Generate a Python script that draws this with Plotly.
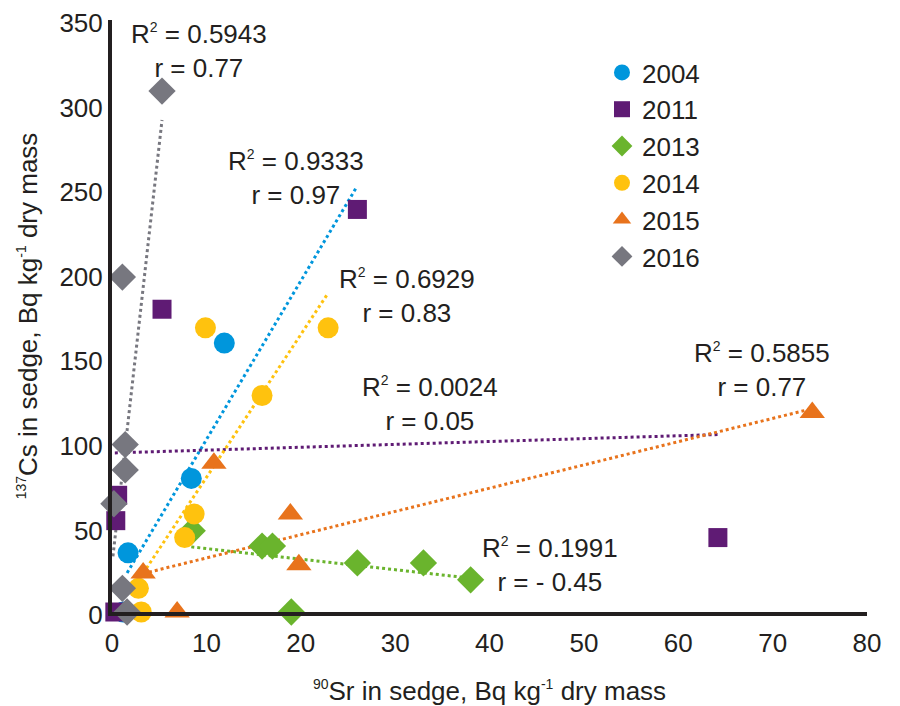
import plotly.graph_objects as go

# ---------------- data ----------------
years = ["2004", "2011", "2013", "2014", "2015", "2016"]
colors = ["#0096dc", "#5f1b74", "#6ab42d", "#ffc20e", "#e8731c", "#77777f"]
symbols = ["circle", "square", "diamond", "circle", "triangle-up", "diamond"]

sr_2004 = [1.7, 1.2, 8.4, 11.9]
cs_2004 = [35, 0, 79, 159]

sr_2011 = [0.3, 0.6, 0.4, 5.3, 26.0, 64.2]
cs_2011 = [0, 69, 54, 179, 238, 44]

sr_2013 = [8.5, 15.9, 17.0, 19.0, 26.0, 33.0, 38.0]
cs_2013 = [48, 39, 39, 0, 29, 29, 19]

sr_2014 = [3.1, 2.8, 7.7, 8.7, 9.9, 15.9, 22.9]
cs_2014 = [0, 14, 44, 58, 168, 128, 168]

sr_2015 = [6.9, 3.3, 10.8, 18.9, 19.8, 74.2]
cs_2015 = [0, 23, 88, 58, 28, 118]

sr_2016 = [5.3, 1.1, 1.4, 1.4, 0.2, 1.1, 1.6]
cs_2016 = [308, 198, 99, 84, 64, 14, 0]

sr_all = [sr_2004, sr_2011, sr_2013, sr_2014, sr_2015, sr_2016]
cs_all = [cs_2004, cs_2011, cs_2013, cs_2014, cs_2015, cs_2016]

# linear trend lines (slope, intercept, x-range)
trend_slope = [9.38, 0.17, -0.625, 8.45, 1.375, 49.6]
trend_intercept = [8.1, 94.0, 43.75, -5.0, 18.2, 28.0]
trend_xmin = [1.6, 0.3, 8.4, 2.6, 3.3, 0.1]
trend_xmax = [25.9, 64.2, 38.0, 22.8, 74.0, 5.3]

# regression statistics labels
stat_r2 = ["0.9333", "0.0024", "0.1991", "0.6929", "0.5855", "0.5943"]
stat_r = ["0.97", "0.05", "- 0.45", "0.83", "0.77", "0.77"]
stat_x = [19.5, 33.7, 46.4, 31.3, 68.9, 9.2]
stat_y = [256.3, 122.7, 27.8, 187.1, 143.1, 331.7]

x_ticks = [0, 10, 20, 30, 40, 50, 60, 70, 80]
y_ticks = [0, 50, 100, 150, 200, 250, 300, 350]

FONT = "Liberation Sans, Arial, sans-serif"
INK = "#231f20"


def sup(t):
    return '<sup><span style="font-size:14px">' + t + '</span></sup>'


fig = go.Figure()

# trend lines
for i in range(len(years)):
    xs = [trend_xmin[i], trend_xmax[i]]
    ys = [trend_slope[i] * v + trend_intercept[i] for v in xs]
    fig.add_trace(go.Scatter(
        x=xs, y=ys, mode="lines",
        line=dict(color=colors[i], width=3, dash="dot"),
        showlegend=False, hoverinfo="skip", cliponaxis=False,
    ))

# markers
for i in range(len(years)):
    size = 21
    if symbols[i] == "triangle-up":
        size = 22
    if symbols[i] == "square":
        size = 19
    fig.add_trace(go.Scatter(
        x=sr_all[i], y=cs_all[i], mode="markers", name=years[i],
        marker=dict(color=colors[i], symbol=symbols[i], size=size, line=dict(width=0)),
        cliponaxis=False,
    ))

for i in range(len(years)):
    fig.add_annotation(
        x=stat_x[i], y=stat_y[i], xref="x", yref="y",
        text="R" + sup("2") + " = " + stat_r2[i] + "<br>r = " + stat_r[i],
        showarrow=False, align="center",
        font=dict(family=FONT, size=26, color=INK),
    )

# page body adds an 8px offset: figure sized so the plot area sits at 112..867 x 20..612
fig.update_layout(
    width=884, height=698,
    margin=dict(l=104, r=25, t=12, b=94),
    paper_bgcolor="white", plot_bgcolor="white",
    font=dict(family=FONT, size=26, color=INK),
    showlegend=True,
    legend=dict(
        x=0.649, y=0.951, xanchor="left", yanchor="top",
        bgcolor="rgba(0,0,0,0)", font=dict(size=26, family=FONT),
        itemsizing="trace", tracegroupgap=0,
    ),
    xaxis=dict(
        range=[0, 80], tickvals=x_ticks, ticktext=[str(v) for v in x_ticks],
        showgrid=False, zeroline=False, showline=True, linewidth=4,
        linecolor=INK, ticks="", automargin=False, ticklabelstandoff=5,
        ticklabeloverflow="allow",
        tickfont=dict(size=26, family=FONT),
        title=dict(text=sup("90") + "Sr in sedge, Bq kg" + sup("-1") + " dry mass",
                   font=dict(size=26, family=FONT), standoff=34),
    ),
    yaxis=dict(
        range=[0, 350], tickvals=y_ticks, ticktext=[str(v) for v in y_ticks],
        showgrid=False, zeroline=False, showline=True, linewidth=4,
        linecolor=INK, ticks="", automargin=False, ticklabeloverflow="allow",
        ticklabelshift=3,
        tickfont=dict(size=26, family=FONT),
        title=dict(text=sup("137") + "Cs in sedge, Bq kg" + sup("-1") + " dry mass",
                   font=dict(size=26, family=FONT)),
    ),
)

fig.write_html("out.html")
